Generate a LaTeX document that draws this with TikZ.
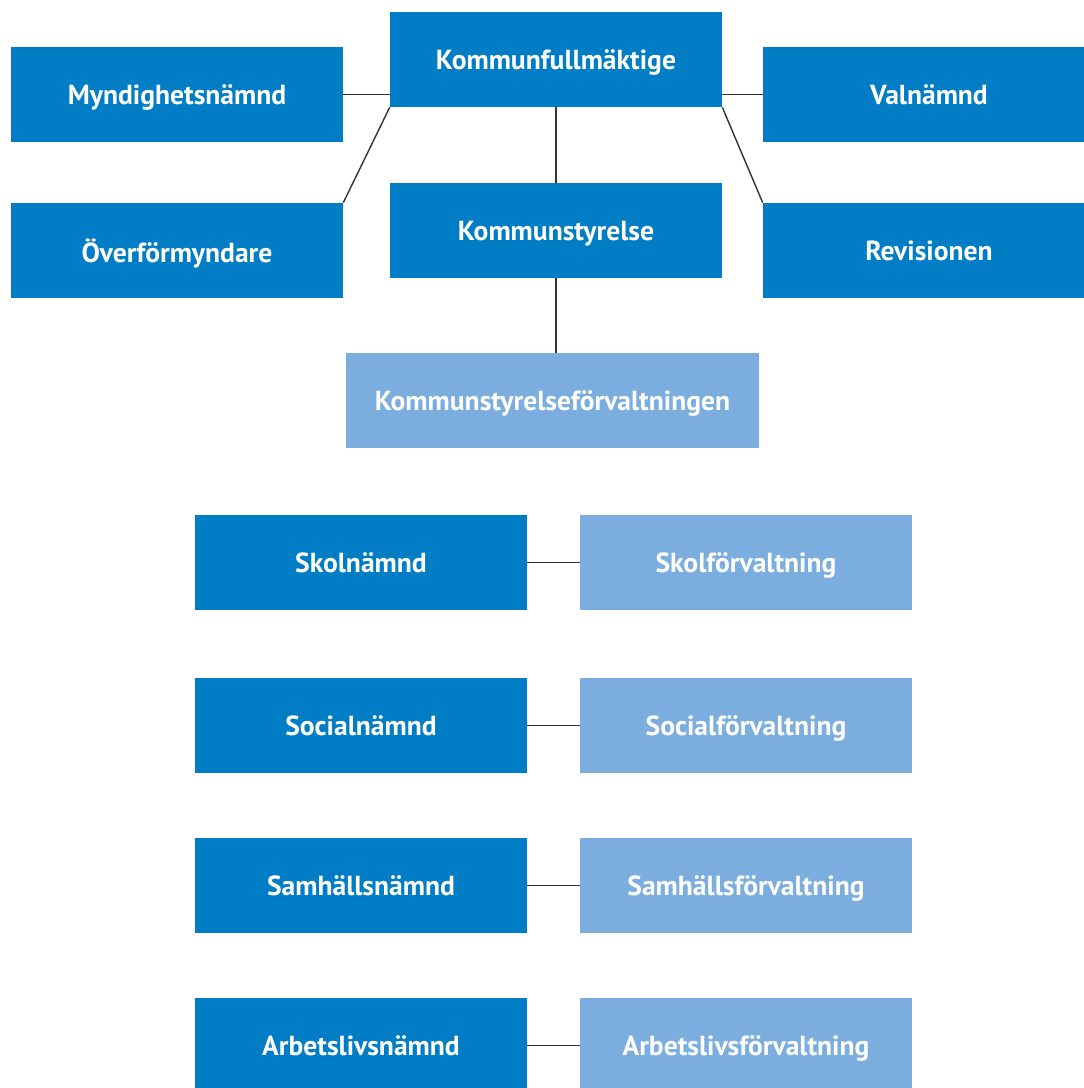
\documentclass[tikz,border=0pt]{standalone}
\usepackage{fontspec}
\setmainfont{PT Sans}
\usepackage{xcolor}
\definecolor{orgblue}{HTML}{007DC5}
\definecolor{admblue}{HTML}{7BAEDE}
\definecolor{linegray}{HTML}{333333}

\tikzset{
  org/.style={fill=orgblue, text=white, font=\fontsize{15.7}{18}\selectfont\bfseries,
    minimum width=6.64cm, minimum height=1.9cm, inner sep=0pt, text depth=0pt},
  adm/.style={org, fill=admblue},
  link/.style={draw=linegray, line width=0.8pt}
}

\begin{document}
\begin{tikzpicture}[x=0.02cm, y=-0.02cm]
    \useasboundingbox (0,0) rectangle (1083,1088);
    % top level
    \node[org] (kf) at (556,59.5) {Kommunfullmäktige};
    \node[org] (myn) at (177,94.5) {Myndighetsnämnd};
    \node[org] (val) at (929,94.5) {Valnämnd};
    \node[org] (ovf) at (177,250.5) {Överförmyndare};
    \node[org] (ks) at (556,230.5) {Kommunstyrelse};
    \node[org] (rev) at (929,250.5) {Revisionen};
    \node[adm, minimum width=8.26cm] (ksf) at (552.5,400.5) {Kommunstyrelseförvaltningen};
    % committees and offices
    \node[org] (skn) at (361,562.5) {Skolnämnd};
    \node[adm] (skf) at (746,562.5) {Skolförvaltning};
    \node[org] (son) at (361,725.5) {Socialnämnd};
    \node[adm] (sof) at (746,725.5) {Socialförvaltning};
    \node[org] (sam) at (361,885.5) {Samhällsnämnd};
    \node[adm] (saf) at (746,885.5) {Samhällsförvaltning};
    \node[org] (arn) at (361,1045.5) {Arbetslivsnämnd};
    \node[adm] (arf) at (746,1045.5) {Arbetslivsförvaltning};
    % links
    \draw[link] (myn.east) -- (myn.east -| kf.west);
    \draw[link] (val.west) -- (val.west -| kf.east);
    \draw[link] (kf.south west) -- (ovf.north east);
    \draw[link] (kf.south east) -- (rev.north west);
    \draw[link] (kf.south) -- (ks.north);
    \draw[link] (ks.south) -- (ks.south |- ksf.north);
    \draw[link] (skn) -- (skf);
    \draw[link] (son) -- (sof);
    \draw[link] (sam) -- (saf);
    \draw[link] (arn) -- (arf);
\end{tikzpicture}
\end{document}
